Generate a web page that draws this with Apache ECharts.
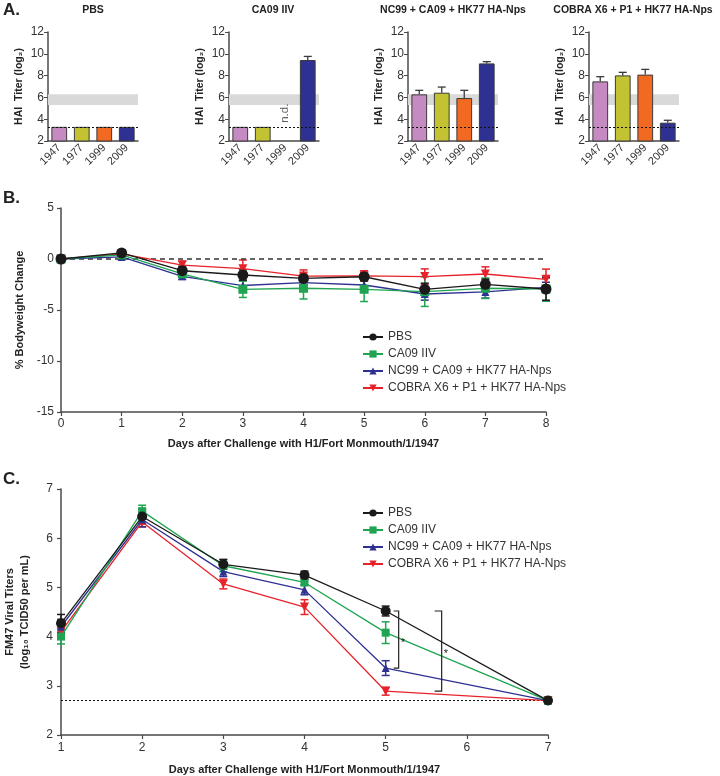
<!DOCTYPE html>
<html>
<head>
<meta charset="utf-8">
<script src="https://cdn.jsdelivr.net/npm/echarts@6/dist/echarts.min.js"></script>
<style>
html,body{margin:0;padding:0;background:#fff;}
#chart{width:720px;height:776px;}
</style>
</head>
<body>
<div id="chart"></div>
<script>
// ---------- Panel A data (HAI titer, log2) ----------
const years = ['1947', '1977', '1999', '2009'];
const panelTitles = ['PBS', 'CA09 IIV', 'NC99 + CA09 + HK77 HA-Nps', 'COBRA X6 + P1 + HK77 HA-Nps'];
const haiPBS = [3.3, 3.3, 3.3, 3.3];
const haiPBSErr = [0, 0, 0, 0];
const haiCA09 = [3.3, 3.3, null, 9.43];
const haiCA09Err = [0, 0, null, 0.33];
const haiNC99 = [6.28, 6.43, 5.94, 9.12];
const haiNC99Err = [0.37, 0.52, 0.71, 0.16];
const haiCOBRA = [7.47, 8.02, 8.09, 3.68];
const haiCOBRAErr = [0.43, 0.28, 0.48, 0.22];
const haiTicks = [2, 4, 6, 8, 10, 12];
const protectiveBand = [5.3, 6.3];
const haiLimit = 3.3;
const notDone = { panel: 1, year: '1999', label: 'n.d.', y: 4.55 };

// ---------- Panel B data (% bodyweight change) ----------
const seriesNames = ['PBS', 'CA09 IIV', 'NC99 + CA09 + HK77 HA-Nps', 'COBRA X6 + P1 + HK77 HA-Nps'];
const bDays = [0, 1, 2, 3, 4, 5, 6, 7, 8];
const bwPBS = [0, 0.6, -1.15, -1.57, -1.9, -1.74, -2.97, -2.48, -2.94];
const bwPBSErr = [0, 0.3, 0.45, 0.5, 0.4, 0.4, 0.6, 0.5, 1.1];
const bwCA09 = [0, 0.4, -1.45, -2.97, -2.87, -2.97, -3.2, -2.87, -2.94];
const bwCA09Err = [0, 0.2, 0.3, 0.8, 1.05, 1.2, 1.45, 1.0, 1.2];
const bwNC99 = [0, 0.2, -1.7, -2.6, -2.32, -2.55, -3.43, -3.23, -2.78];
const bwNC99Err = [0, 0.2, 0.3, 0.5, 0.5, 0.6, 0.6, 0.6, 0.5];
const bwCOBRA = [0, 0.5, -0.6, -0.95, -1.67, -1.65, -1.72, -1.47, -1.99];
const bwCOBRAErr = [0, 0.2, 0.4, 0.85, 0.6, 0.5, 0.75, 0.7, 1.0];

// ---------- Panel C data (viral titers, log10 TCID50/mL) ----------
const cDays = [1, 2, 3, 4, 5, 7];
const vtPBS = [4.27, 6.44, 5.47, 5.25, 4.52, 2.7];
const vtPBSErr = [0.18, 0.15, 0.1, 0.08, 0.1, 0];
const vtCA09 = [4.0, 6.55, 5.44, 5.1, 4.08, 2.7];
const vtCA09Err = [0.15, 0.12, 0.12, 0.06, 0.22, 0];
const vtNC99 = [4.2, 6.38, 5.32, 4.95, 3.36, 2.7];
const vtNC99Err = [0.15, 0.15, 0.1, 0.1, 0.15, 0];
const vtCOBRA = [4.1, 6.33, 5.07, 4.6, 2.89, 2.7];
const vtCOBRAErr = [0.1, 0.1, 0.1, 0.15, 0.08, 0];
const detectionLimit = 2.7;
// significance: day 5, PBS vs NC99 and PBS vs COBRA
const sigDay = 5;
const sigPairs = [['PBS', 'NC99'], ['PBS', 'COBRA']];
const sigLabel = '*';

// ---------- styles ----------
const FONT = 'Liberation Sans, Arial, Helvetica, sans-serif';
const AX = '#4a4a4a';
const TXT = '#333';
const barColors = ['#c58ac2', '#c3c233', '#f26a21', '#2e3192'];
const lineColors = ['#1a1a1a', '#1fa552', '#2e3192', '#e6232a'];
const symbols = ['circle', 'rect', 'triangle', 'triangle'];
const symbolRot = [0, 0, 0, 180];
const symSizeB = [11, 9, 8, 9];
const symSizeC = [10, 8, 8, 9];

const chart = echarts.init(document.getElementById('chart'), null, { renderer: 'canvas' });

const grids = [];
const xAxes = [];
const yAxes = [];
const series = [];
const graphics = [];

// ---- Panel A ----
const aLefts = [48, 229, 408, 589];
const aValues = [haiPBS, haiCA09, haiNC99, haiCOBRA];
const aErrs = [haiPBSErr, haiCA09Err, haiNC99Err, haiCOBRAErr];
const aCenters = [93, 273, 453, 633];

aLefts.forEach((left, p) => {
  grids.push({ left: left, top: 32, width: 90, height: 109, outerBoundsMode: 'none', containLabel: false });
  xAxes.push({
    type: 'category', gridIndex: p, data: years,
    axisLine: { lineStyle: { color: AX, width: 1.5 } },
    axisTick: { alignWithLabel: true, length: 3, lineStyle: { color: AX } },
    axisLabel: { rotate: 45, fontSize: 11, color: TXT, fontFamily: FONT, margin: 5 }
  });
  yAxes.push({
    type: 'value', gridIndex: p, min: 2, max: 12, interval: 2,
    name: 'HAI  Titer (log\u2082)', nameLocation: 'middle', nameGap: 23,
    nameTextStyle: { fontSize: 10.5, fontWeight: 'bold', color: '#222', fontFamily: FONT },
    axisLine: { show: true, lineStyle: { color: AX, width: 1.5 } },
    axisTick: { show: true, length: 4, lineStyle: { color: AX } },
    splitLine: { show: false },
    axisLabel: { fontSize: 12, color: TXT, fontFamily: FONT, margin: 4 }
  });
  // protective band (behind bars)
  series.push({
    type: 'line', xAxisIndex: p, yAxisIndex: p, data: [], z: 1, silent: true,
    markArea: {
      silent: true, itemStyle: { color: '#d9d9d9' },
      data: [[{ yAxis: protectiveBand[0] }, { yAxis: protectiveBand[1] }]]
    }
  });
  series.push({
    type: 'bar', xAxisIndex: p, yAxisIndex: p, barWidth: '70%', z: 2,
    data: years.map((y, i) => aValues[p][i] == null ? '-' : ({
      value: aValues[p][i], itemStyle: { color: barColors[i], borderColor: '#3a3a3a', borderWidth: 1 }
    })),
    markLine: {
      silent: true, symbol: 'none', label: { show: false },
      lineStyle: { type: [2, 2], color: '#111', width: 1 },
      data: [{ yAxis: haiLimit }]
    }
  });
  // error bars (upward)
  series.push({
    type: 'custom', xAxisIndex: p, yAxisIndex: p, z: 3,
    data: years.map((y, i) => [i, aValues[p][i], aErrs[p][i]]).filter(d => d[1] != null && d[2] > 0),
    renderItem: function (params, api) {
      const i = api.value(0), v = api.value(1), e = api.value(2);
      const b = api.coord([i, v]);
      const t = api.coord([i, v + e]);
      const st = { stroke: '#3a3a3a', lineWidth: 1.3 };
      return {
        type: 'group', children: [
          { type: 'line', shape: { x1: b[0], y1: b[1], x2: t[0], y2: t[1] }, style: st },
          { type: 'line', shape: { x1: t[0] - 4, y1: t[1], x2: t[0] + 4, y2: t[1] }, style: st }
        ]
      };
    }
  });
  graphics.push({
    type: 'text', x: aCenters[p], y: 5,
    style: { text: panelTitles[p], align: 'center', verticalAlign: 'top', font: 'bold 10.5px ' + FONT, fill: '#222' }
  });
});

// n.d. label
series.push({
  type: 'scatter', xAxisIndex: notDone.panel, yAxisIndex: notDone.panel, symbolSize: 0,
  data: [[notDone.year, notDone.y]],
  label: { show: true, formatter: notDone.label, rotate: 90, position: 'inside', fontSize: 11.5, color: TXT, fontFamily: FONT }
});

// ---- helper for line+error panels ----
function errSeries(xi, data, color, cap) {
  return {
    type: 'custom', xAxisIndex: xi, yAxisIndex: xi, z: 4, silent: true,
    data: data,
    renderItem: function (params, api) {
      const x = api.value(0), v = api.value(1), e = api.value(2);
      if (!e) return null;
      const t = api.coord([x, v + e]);
      const b = api.coord([x, v - e]);
      const st = { stroke: color, lineWidth: 1.5 };
      return {
        type: 'group', children: [
          { type: 'line', shape: { x1: t[0], y1: t[1], x2: b[0], y2: b[1] }, style: st },
          { type: 'line', shape: { x1: t[0] - cap, y1: t[1], x2: t[0] + cap, y2: t[1] }, style: st },
          { type: 'line', shape: { x1: b[0] - cap, y1: b[1], x2: b[0] + cap, y2: b[1] }, style: st }
        ]
      };
    }
  };
}

const axisCommon = {
  axisLine: { show: true, onZero: false, lineStyle: { color: AX, width: 1.5 } },
  axisTick: { show: true, length: 4, lineStyle: { color: AX, width: 1.2 } },
  splitLine: { show: false },
  axisLabel: { fontSize: 12, color: TXT, fontFamily: FONT }
};

// ---- Panel B ----
grids.push({ left: 61, top: 208, width: 485, height: 204, outerBoundsMode: 'none', containLabel: false });
xAxes.push(Object.assign({}, axisCommon, {
  type: 'value', gridIndex: 4, min: 0, max: 8, interval: 1,
  name: 'Days after Challenge with H1/Fort Monmouth/1/1947', nameLocation: 'middle', nameGap: 26,
  nameTextStyle: { fontSize: 11, fontWeight: 'bold', color: '#222', fontFamily: FONT },
  axisLabel: { fontSize: 12, color: TXT, fontFamily: FONT, margin: 6 }
}));
yAxes.push(Object.assign({}, axisCommon, {
  type: 'value', gridIndex: 4, min: -15, max: 5, interval: 5,
  name: '% Bodyweight Change', nameLocation: 'middle', nameGap: 32,
  nameTextStyle: { fontSize: 11, fontWeight: 'bold', color: '#222', fontFamily: FONT },
  axisLabel: { fontSize: 12, color: TXT, fontFamily: FONT, margin: 7 }
}));
const bVals = [bwPBS, bwCA09, bwNC99, bwCOBRA];
const bErrs = [bwPBSErr, bwCA09Err, bwNC99Err, bwCOBRAErr];
// baseline dashed line
series.push({
  type: 'line', xAxisIndex: 4, yAxisIndex: 4, data: [], silent: true,
  markLine: { silent: true, symbol: 'none', label: { show: false },
    lineStyle: { type: [5, 4], color: '#333', width: 1.5 }, data: [{ yAxis: 0 }] }
});
[3, 2, 1, 0].forEach(k => {
  series.push(errSeries(4, bDays.map((d, i) => [d, bVals[k][i], bErrs[k][i]]), lineColors[k], 4));
  series.push({
    name: seriesNames[k], type: 'line', xAxisIndex: 4, yAxisIndex: 4, z: 5 + (3 - k),
    data: bDays.map((d, i) => [d, bVals[k][i]]),
    symbol: symbols[k], symbolRotate: symbolRot[k], symbolSize: symSizeB[k],
    showAllSymbol: true,
    lineStyle: { color: lineColors[k], width: 1.3 },
    itemStyle: { color: lineColors[k], borderWidth: 0 }
  });
});

// ---- Panel C ----
grids.push({ left: 61, top: 489, width: 487, height: 246, outerBoundsMode: 'none', containLabel: false });
xAxes.push(Object.assign({}, axisCommon, {
  type: 'value', gridIndex: 5, min: 1, max: 7, interval: 1,
  name: 'Days after Challenge with H1/Fort Monmouth/1/1947', nameLocation: 'middle', nameGap: 29,
  nameTextStyle: { fontSize: 11, fontWeight: 'bold', color: '#222', fontFamily: FONT },
  axisLabel: { fontSize: 12, color: TXT, fontFamily: FONT, margin: 7 }
}));
yAxes.push(Object.assign({}, axisCommon, {
  type: 'value', gridIndex: 5, min: 2, max: 7, interval: 1,
  name: 'FM47 Viral Titers\n(log\u2081\u2080 TCID50 per mL)', nameLocation: 'middle', nameGap: 29,
  nameTextStyle: { fontSize: 11, fontWeight: 'bold', color: '#222', fontFamily: FONT, lineHeight: 15 },
  axisLabel: { fontSize: 12, color: TXT, fontFamily: FONT, margin: 8 }
}));
const cVals = [vtPBS, vtCA09, vtNC99, vtCOBRA];
const cErrs = [vtPBSErr, vtCA09Err, vtNC99Err, vtCOBRAErr];
series.push({
  type: 'line', xAxisIndex: 5, yAxisIndex: 5, data: [], silent: true,
  markLine: { silent: true, symbol: 'none', label: { show: false },
    lineStyle: { type: [2, 2], color: '#111', width: 1 }, data: [{ yAxis: detectionLimit }] }
});
[3, 2, 1, 0].forEach(k => {
  series.push(errSeries(5, cDays.map((d, i) => [d, cVals[k][i], cErrs[k][i]]), lineColors[k], 4));
  series.push({
    name: seriesNames[k], type: 'line', xAxisIndex: 5, yAxisIndex: 5, z: 5 + (3 - k),
    data: cDays.map((d, i) => [d, cVals[k][i]]),
    symbol: symbols[k], symbolRotate: symbolRot[k], symbolSize: symSizeC[k],
    showAllSymbol: true,
    lineStyle: { color: lineColors[k], width: 1.3 },
    itemStyle: { color: lineColors[k], borderWidth: 0 }
  });
});
// significance brackets
const groupVals = { PBS: vtPBS, CA09: vtCA09, NC99: vtNC99, COBRA: vtCOBRA };
const sigIdx = cDays.indexOf(sigDay);
const bracketOffsets = [13, 56];
const bracketTicks = [5, 7];
series.push({
  type: 'custom', xAxisIndex: 5, yAxisIndex: 5, z: 10, silent: true,
  data: sigPairs.map((pr, j) => [sigDay, groupVals[pr[0]][sigIdx], groupVals[pr[1]][sigIdx], j]),
  renderItem: function (params, api) {
    const d = api.value(0), a = api.value(1), b = api.value(2), j = api.value(3);
    const pa = api.coord([d, a]), pb = api.coord([d, b]);
    const x = pa[0] + bracketOffsets[j];
    const tk = bracketTicks[j];
    const st = { stroke: '#222', lineWidth: 1.2 };
    return {
      type: 'group', children: [
        { type: 'polyline', shape: { points: [[x - tk, pa[1]], [x, pa[1]], [x, pb[1]], [x - tk, pb[1]]] }, style: Object.assign({ fill: 'none' }, st) },
        { type: 'text', x: x + 2, y: (pa[1] + pb[1]) / 2 + 3, style: { text: sigLabel, font: '11px ' + FONT, fill: '#222', align: 'left', verticalAlign: 'middle' } }
      ]
    };
  }
});

// panel letters
graphics.push({ type: 'text', x: 3, y: 2, style: { text: 'A.', font: 'bold 17px ' + FONT, fill: '#222' } });
graphics.push({ type: 'text', x: 3, y: 190, style: { text: 'B.', font: 'bold 17px ' + FONT, fill: '#222' } });
graphics.push({ type: 'text', x: 3, y: 471, style: { text: 'C.', font: 'bold 17px ' + FONT, fill: '#222' } });

const legendBase = {
  orient: 'vertical', data: seriesNames, selectedMode: false,
  itemWidth: 20, itemHeight: 9, itemGap: 3,
  textStyle: { fontSize: 12, color: TXT, fontFamily: FONT, lineHeight: 14 }
};

chart.setOption({
  animation: false,
  backgroundColor: '#fff',
  grid: grids,
  xAxis: xAxes,
  yAxis: yAxes,
  legend: [
    Object.assign({}, legendBase, { left: 357, top: 325 }),
    Object.assign({}, legendBase, { left: 357, top: 501 })
  ],
  graphic: graphics,
  series: series
});
</script>
</body>
</html>
